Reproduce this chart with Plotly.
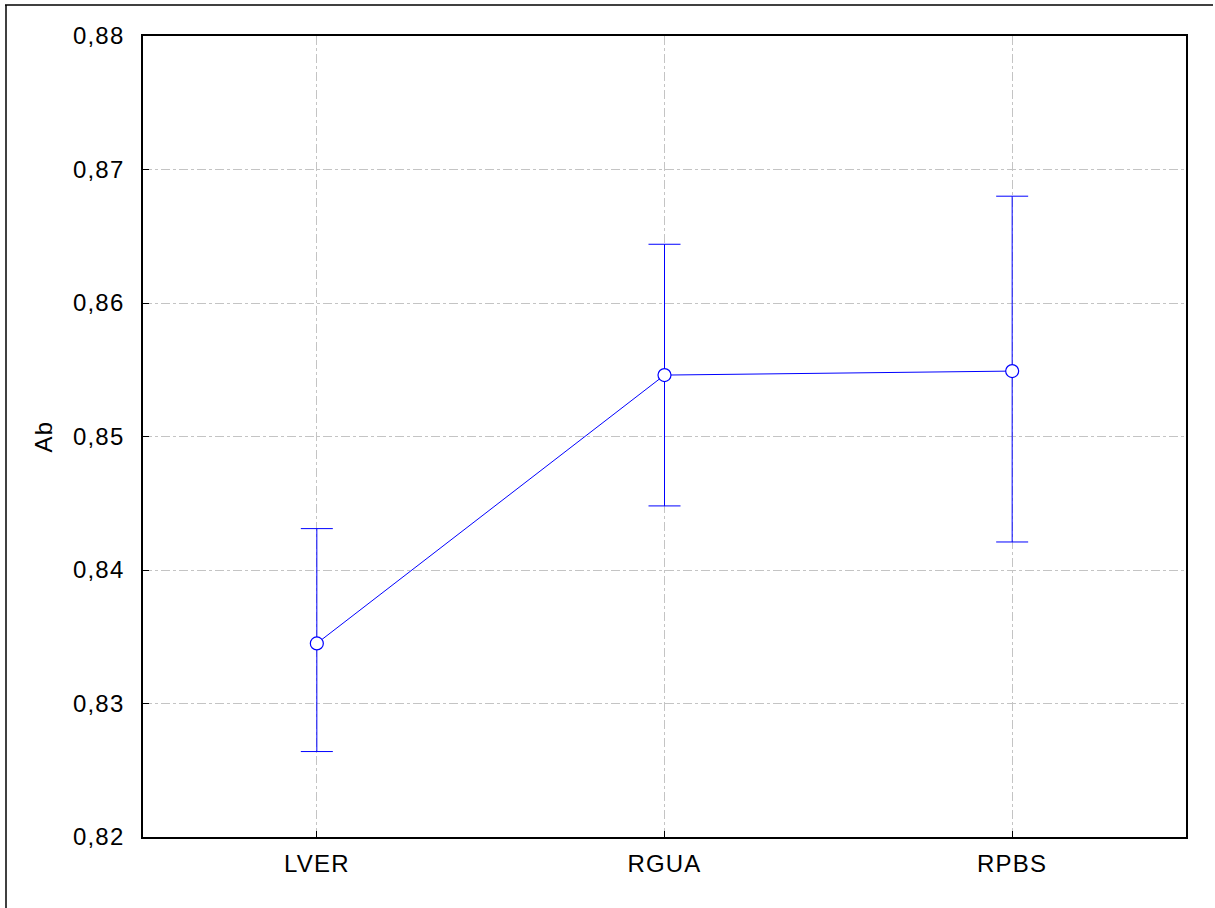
import plotly.graph_objects as go

categories = ["LVER", "RGUA", "RPBS"]
means = [0.8345, 0.8546, 0.8549]
upper = [0.8431, 0.8644, 0.8680]
lower = [0.8264, 0.8448, 0.8421]
y_ticks = [0.82, 0.83, 0.84, 0.85, 0.86, 0.87, 0.88]
y_tick_labels = ["0,82", "0,83", "0,84", "0,85", "0,86", "0,87", "0,88"]

err_plus = [u - m for u, m in zip(upper, means)]
err_minus = [m - l for m, l in zip(means, lower)]

BLUE = "rgb(0,0,255)"
FONT = "Liberation Sans, Arial, sans-serif"

fig = go.Figure()
fig.add_trace(go.Scatter(
    x=categories, y=means, mode="lines+markers",
    line=dict(color=BLUE, width=1),
    marker=dict(size=13, color="white", line=dict(color=BLUE, width=1.2)),
    error_y=dict(type="data", symmetric=False, array=err_plus, arrayminus=err_minus,
                 color=BLUE, thickness=1, width=16),
    showlegend=False,
))

W, H = 1215, 908
L, R, T, B = 143, 29, 36, 71
pw, ph = W - L - R, H - T - B

def px(x):
    return (x - L) / pw

def py(y):
    return (H - B - y) / ph

# outer frame: left and top lines
fig.add_shape(type="line", xref="paper", yref="paper", x0=px(6), x1=px(6), y0=py(5), y1=py(910),
              line=dict(color="black", width=1.5))
fig.add_shape(type="line", xref="paper", yref="paper", x0=px(5), x1=px(1213), y0=py(5), y1=py(5),
              line=dict(color="black", width=1.5))

fig.update_layout(
    width=W, height=H,
    margin=dict(l=L, r=R, t=T, b=B),
    paper_bgcolor="white", plot_bgcolor="white",
    font=dict(family=FONT, size=24, color="black"),
    xaxis=dict(
        type="category", range=[-0.5, 2.5],
        showline=True, linecolor="black", linewidth=1.5, mirror=True,
        ticks="inside", ticklen=6, tickcolor="black", tickwidth=1,
        showgrid=True, gridcolor="#c4c4c4", gridwidth=1, griddash="dashdot",
        ticklabelstandoff=4,
        zeroline=False,
    ),
    yaxis=dict(
        range=[0.82, 0.88], tickvals=y_ticks, ticktext=y_tick_labels,
        showline=True, linecolor="black", linewidth=1.5, mirror=True,
        ticks="inside", ticklen=6, tickcolor="black", tickwidth=1,
        showgrid=True, gridcolor="#c4c4c4", gridwidth=1, griddash="dashdot",
        ticklabelstandoff=12,
        title=dict(text="Ab", standoff=18, font=dict(size=24)),
        zeroline=False,
    ),
)

post = """
var s = document.createElement('style');
s.innerHTML = '.xtick text, .ytick text, .ytitle { letter-spacing: 1.2px; }';
document.head.appendChild(s);
"""
fig.write_html("out.html", post_script=post)
